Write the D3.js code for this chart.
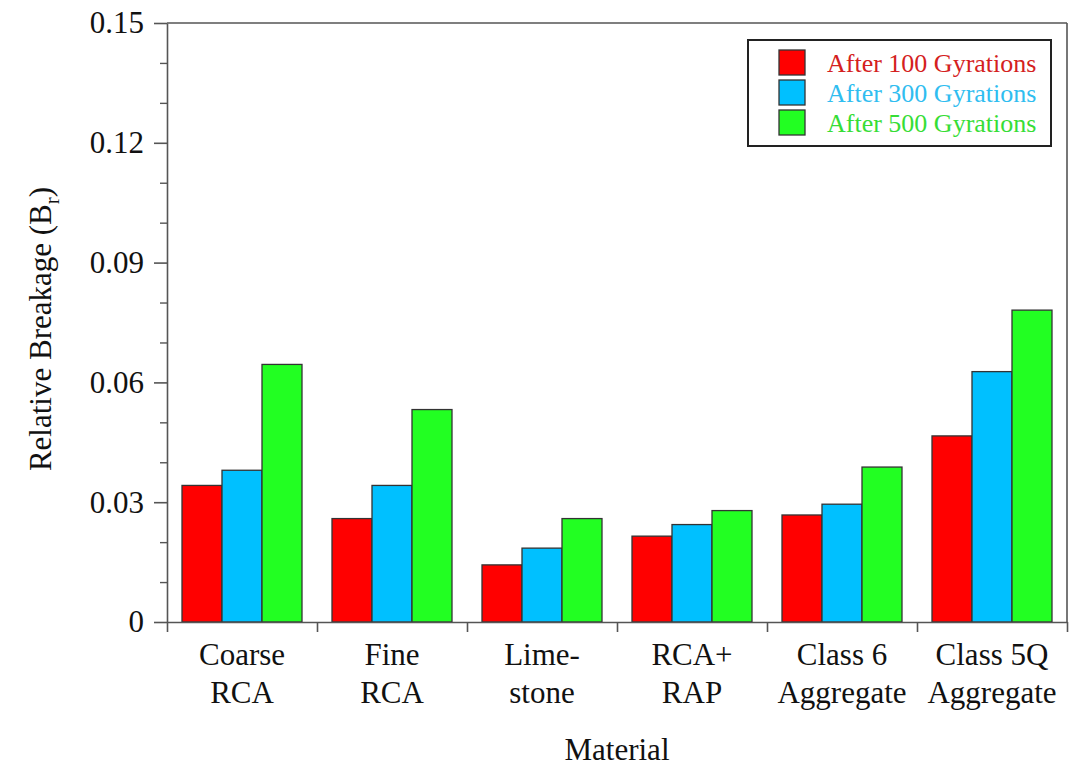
<!DOCTYPE html>
<html>
<head>
<meta charset="utf-8">
<script src="https://cdn.jsdelivr.net/npm/d3@7/dist/d3.min.js"></script>
<style>
  html, body { margin: 0; padding: 0; background: #fff; }
  svg { display: block; }
  text { font-family: "Liberation Serif", "Times New Roman", serif; fill: #111; }
</style>
</head>
<body>
<svg id="chart" width="1074" height="768"></svg>
<script>
// Material categories, each label split over two lines
const categories = [
  ["Coarse", "RCA"],
  ["Fine", "RCA"],
  ["Lime-", "stone"],
  ["RCA+", "RAP"],
  ["Class 6", "Aggregate"],
  ["Class 5Q", "Aggregate"]
];

// Relative breakage B_r per material
const after100 = [0.0342, 0.0259, 0.0143, 0.0215, 0.0268, 0.0466];
const after300 = [0.0380, 0.0342, 0.0185, 0.0244, 0.0295, 0.0627];
const after500 = [0.0645, 0.0532, 0.0259, 0.0279, 0.0388, 0.0781];

const seriesNames = ["After 100 Gyrations", "After 300 Gyrations", "After 500 Gyrations"];
const seriesValues = [after100, after300, after500];
const seriesColors = ["#ff0000", "#00c0ff", "#22ff22"];
const legendTextColors = ["#d42020", "#2fbdf0", "#36dd36"];

const yMajorTicks = [0, 0.03, 0.06, 0.09, 0.12, 0.15];
const yMinorTicks = [0.01, 0.02, 0.04, 0.05, 0.07, 0.08, 0.10, 0.11, 0.13, 0.14];
const yTickLabels = ["0", "0.03", "0.06", "0.09", "0.12", "0.15"];

const svg = d3.select("#chart");
const m = { left: 167, right: 1067, top: 23, bottom: 622 };

const catKeys = categories.map((c, i) => i);
const x0 = d3.scaleBand().domain(catKeys).range([m.left, m.right]).padding(0);
const x1 = d3.scaleBand().domain(d3.range(seriesNames.length))
  .range([15, x0.bandwidth() - 15]).padding(0);
const y = d3.scaleLinear().domain([0, 0.15]).range([m.bottom, m.top]);

const axisColor = "#555";

// Bars
const groups = svg.append("g").selectAll("g")
  .data(catKeys).join("g")
  .attr("transform", d => `translate(${x0(d)},0)`);

groups.selectAll("rect")
  .data(ci => seriesValues.map((vals, si) => ({ si, v: vals[ci] })))
  .join("rect")
  .attr("x", d => x1(d.si))
  .attr("y", d => y(d.v))
  .attr("width", x1.bandwidth())
  .attr("height", d => y(0) - y(d.v))
  .attr("fill", d => seriesColors[d.si])
  .attr("stroke", "#333")
  .attr("stroke-width", 1.3);

// Frame (top and right edges)
svg.append("line")
  .attr("x1", m.left).attr("x2", m.right)
  .attr("y1", m.top).attr("y2", m.top)
  .attr("stroke", axisColor).attr("stroke-width", 1.6);
svg.append("line")
  .attr("x1", m.right).attr("x2", m.right)
  .attr("y1", m.top).attr("y2", m.bottom)
  .attr("stroke", axisColor).attr("stroke-width", 1.6);

// Y axis: minor ticks
const yMinor = svg.append("g")
  .attr("transform", `translate(${m.left},0)`)
  .call(d3.axisLeft(y).tickValues(yMinorTicks).tickSize(7).tickFormat(""));
yMinor.select(".domain").remove();
yMinor.selectAll("line").attr("stroke", axisColor).attr("stroke-width", 1.4);

// Y axis: major ticks with labels
const yAxis = svg.append("g")
  .attr("transform", `translate(${m.left},0)`)
  .call(d3.axisLeft(y).tickValues(yMajorTicks).tickSize(13).tickPadding(10)
    .tickSizeOuter(0)
    .tickFormat((d, i) => yTickLabels[i]));
yAxis.select(".domain").attr("stroke", axisColor).attr("stroke-width", 1.6);
yAxis.selectAll("line").attr("stroke", axisColor).attr("stroke-width", 1.6);
yAxis.selectAll("text")
  .style("font-family", '"Liberation Serif", "Times New Roman", serif')
  .style("font-size", "31px")
  .attr("fill", "#111");

// X axis: ticks at category boundaries
const boundaries = catKeys.map(k => x0(k)).concat([m.right]);
const xb = d3.scaleLinear().domain([m.left, m.right]).range([m.left, m.right]);
const xAxis = svg.append("g")
  .attr("transform", `translate(0,${m.bottom})`)
  .call(d3.axisBottom(xb).tickValues(boundaries).tickSize(10).tickSizeOuter(0).tickFormat(""));
xAxis.select(".domain").attr("stroke", axisColor).attr("stroke-width", 1.6);
xAxis.selectAll("line").attr("stroke", axisColor).attr("stroke-width", 1.6);

// Category labels (two lines)
const catLabels = svg.append("g").selectAll("text")
  .data(categories).join("text")
  .attr("text-anchor", "middle")
  .style("font-size", "31px");
catLabels.each(function (lines, i) {
  const t = d3.select(this);
  const cx = x0(i) + x0.bandwidth() / 2;
  t.append("tspan").attr("x", cx).attr("y", 665).text(lines[0]);
  t.append("tspan").attr("x", cx).attr("y", 703).text(lines[1]);
});

// Axis titles
svg.append("text")
  .attr("x", (m.left + m.right) / 2)
  .attr("y", 760)
  .attr("text-anchor", "middle")
  .style("font-size", "31px")
  .text("Material");

const yTitle = svg.append("text")
  .attr("transform", "translate(51,329) rotate(-90)")
  .attr("text-anchor", "middle")
  .style("font-size", "31px");
yTitle.append("tspan").text("Relative Breakage (B");
yTitle.append("tspan").attr("dy", 8).style("font-size", "21px").text("r");
yTitle.append("tspan").attr("dy", -8).text(")");

// Legend
const legend = svg.append("g");
legend.append("rect")
  .attr("x", 748).attr("y", 40)
  .attr("width", 303).attr("height", 106)
  .attr("fill", "#fff")
  .attr("stroke", "#222").attr("stroke-width", 2);

const items = legend.selectAll("g.item")
  .data(seriesNames).join("g")
  .attr("class", "item")
  .attr("transform", (d, i) => `translate(0,${50 + i * 30})`);
items.append("rect")
  .attr("x", 779).attr("y", 0)
  .attr("width", 26).attr("height", 25)
  .attr("fill", (d, i) => seriesColors[i])
  .attr("stroke", "#333").attr("stroke-width", 1.3);
items.append("text")
  .attr("x", 827).attr("y", 22)
  .style("font-size", "26px")
  .style("fill", (d, i) => legendTextColors[i])
  .text(d => d);
</script>
</body>
</html>
